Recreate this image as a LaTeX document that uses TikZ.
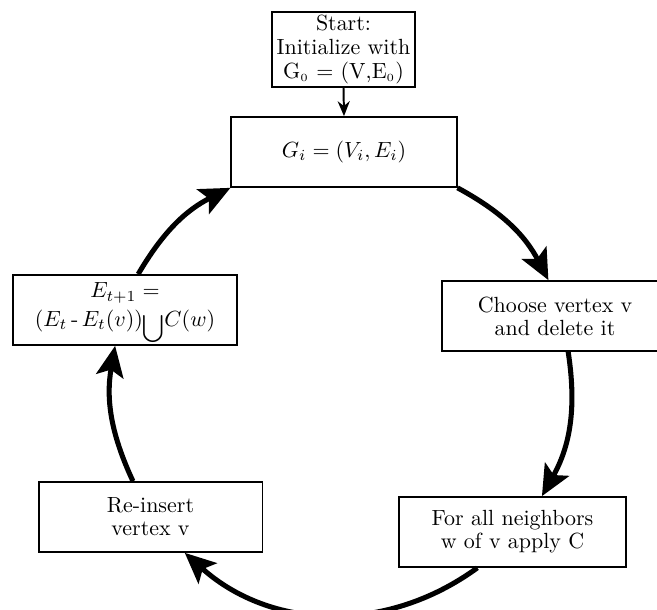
\documentclass[tikz,border=0pt]{standalone}
\usetikzlibrary{arrows.meta}

\tikzset{
  stepbox/.style={draw, line width=0.9pt, align=center, inner sep=1pt,
    minimum width=102.5pt, minimum height=31.75pt,
    font=\fontsize{10}{10.5}\selectfont},
  cyclearrow/.style={line width=2.3pt,
    -{Stealth[length=14pt,width=12.5pt,inset=3pt]}},
}

\begin{document}
\begin{tikzpicture}[x=0.016cm, y=0.016cm, >={Stealth[length=6.8pt,width=5.5pt]}]
	\useasboundingbox (0,0) rectangle (657,610);
	
	% Start box and the graph box
	\node[stepbox, minimum width=64.9pt, minimum height=34pt, font=\fontsize{10}{11}\selectfont] (start) at (343.5,560.5)
		{Start:\\Initialize with\\G$_{\scriptscriptstyle 0}$ = (V,E$_{\scriptscriptstyle 0}$)};
	\node[stepbox] (gi) at (344,458) {$G_i=(V_i,E_i)$};
	
	% Steps around the cycle
	\node[stepbox] (choose) at (555,294) {Choose vertex v\\and delete it};
	\node[stepbox, minimum width=103pt] (forall) at (512.5,78) {For all neighbors\\w of v apply C};
	\node[stepbox, minimum width=102pt] (reins) at (150.5,93) {Re-insert\\vertex v};
	\node[stepbox, minimum width=101.6pt] (eupd) at (125,300)
		{$E_{t+1}=$\\[2.5pt]$(E_t$\,-\,$E_t(v))$\raisebox{-3.5pt}[5pt][5pt]{\scalebox{0.88}{$\displaystyle\bigcup$}}$C(w)$};
	
	% Arrows
	\draw[->, line width=0.9pt] (start.south) -- (gi.north);
	\draw[cyclearrow] (gi.south east) to[bend left=17] ([xshift=-3pt]choose.north);
	\draw[cyclearrow] ([xshift=6pt]choose.south) to[bend left=19] ([xshift=13.4pt]forall.north);
	\draw[cyclearrow] ([xshift=-16pt]forall.south) to[bend left=39] ([xshift=15.6pt]reins.south);
	\draw[cyclearrow] ([xshift=-8pt]reins.north) to[bend left=17.5] ([xshift=-4.5pt]eupd.south);
	\draw[cyclearrow] ([xshift=6pt]eupd.north) to[bend left=16.5] (gi.south west);
\end{tikzpicture}
\end{document}
